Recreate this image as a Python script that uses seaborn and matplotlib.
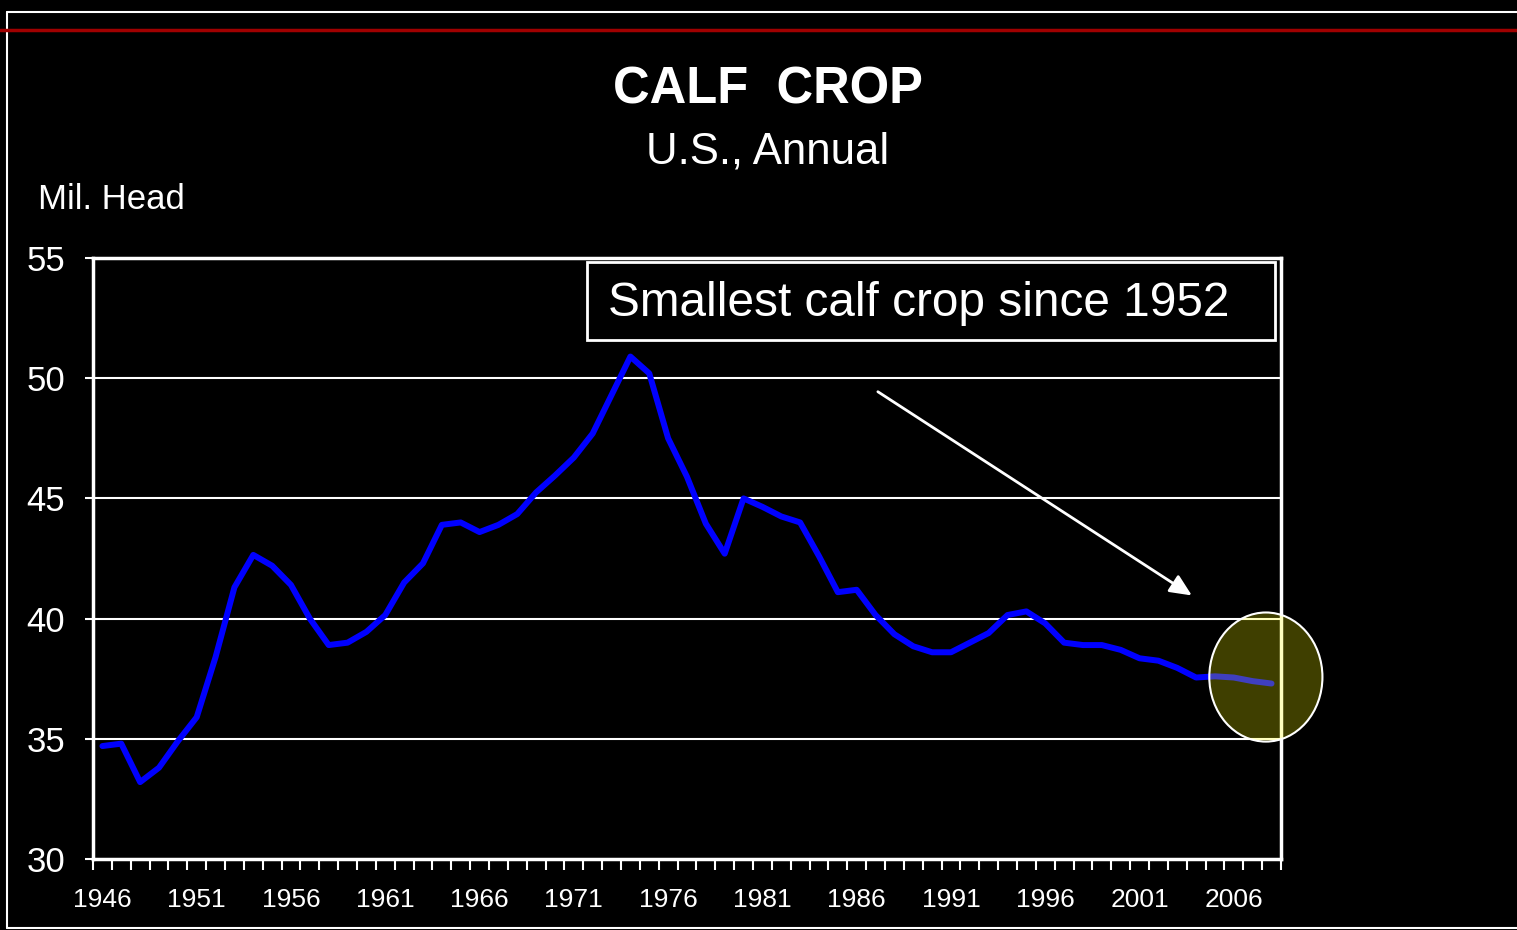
import numpy as np
import pandas as pd
import seaborn as sns
import matplotlib.pyplot as plt
from matplotlib.patches import Ellipse, Rectangle
from matplotlib.lines import Line2D

# calf crop, million head
years = list(range(1946, 2009))
calves = [34.7, 34.8, 33.2, 33.8, 34.9, 35.9, 38.4, 41.3, 42.65, 42.2,
          41.4, 40.0, 38.9, 39.0, 39.45, 40.15, 41.5, 42.3, 43.9, 44.0,
          43.6, 43.9, 44.35, 45.25, 45.95, 46.7, 47.7, 49.3, 50.9, 50.2,
          47.5, 45.9, 43.95, 42.7, 45.0, 44.65, 44.25, 44.0, 42.6, 41.1,
          41.2, 40.15, 39.35, 38.85, 38.6, 38.6, 39.0, 39.4, 40.15, 40.3,
          39.8, 39.0, 38.9, 38.9, 38.7, 38.35, 38.25, 37.95, 37.55, 37.6,
          37.55, 37.4, 37.3]
label_years = list(range(1946, 2009, 5))
y_ticks = [30, 35, 40, 45, 50, 55]

df = pd.DataFrame({"Year": years, "Calves": calves})

sns.set_theme(style="dark", rc={"figure.facecolor": "black",
                                "axes.facecolor": "black",
                                "text.color": "white",
                                "xtick.color": "white",
                                "ytick.color": "white"})
plt.rcParams["font.family"] = ["Liberation Sans", "DejaVu Sans"]

fig = plt.figure(figsize=(15.17, 9.30), dpi=100)
ax = fig.add_axes([0.0613, 0.0763, 0.7831, 0.6463])

# gridlines first so the line sits on top
for v in y_ticks[1:-1]:
    ax.axhline(v, color="white", lw=1.5, zorder=1)

sns.lineplot(data=df, x="Year", y="Calves", color="#0000FF", lw=4.3, ax=ax, zorder=3)

ax.set_xlim(years[0] - 0.5, years[-1] + 0.5)
ax.set_ylim(30, 55)
ax.set_xticks(label_years)
ax.set_xticklabels([str(y) for y in label_years], fontsize=19)
ax.set_xticks(np.arange(years[0] - 0.5, years[-1] + 1), minor=True)
ax.tick_params(axis="x", which="major", length=0, pad=21)
ax.tick_params(axis="x", which="minor", length=8, width=1.5, color="white", direction="out", bottom=True)
ax.set_yticks(y_ticks)
ax.set_yticklabels([str(v) for v in y_ticks], fontsize=25)
ax.tick_params(axis="y", length=6, width=1.5, color="white", direction="out", left=True, pad=14)
ax.set_xlabel("")
ax.set_ylabel("")
ax.grid(False)
for s in ax.spines.values():
    s.set_visible(True)
    s.set_color("white")
    s.set_linewidth(2.5)

# callout box and arrow
ax.add_patch(Rectangle((1971.7, 51.6), 36.5, 3.23, fill=False, ec="white", lw=2, zorder=4))
ax.text(1972.8, 53.1, "Smallest calf crop since 1952", fontsize=34.4, color="white",
        ha="left", va="center", zorder=5)
ax.annotate("", xy=(2003.9, 40.9), xytext=(1987.0, 49.5),
            arrowprops=dict(arrowstyle="-|>,head_length=1.1,head_width=0.5",
                            color="white", lw=2), zorder=5)

# highlight circle on the last years
ax.add_patch(Ellipse((2007.7, 37.57), 6.0, 5.37, fc=(1, 1, 0, 0.25), ec="white",
                     lw=1.5, clip_on=False, zorder=6))

# titles
fig.text(0.506, 0.903, "CALF  CROP", fontsize=36.5, fontweight="bold", ha="center", va="center")
fig.text(0.506, 0.837, "U.S., Annual", fontsize=31.5, ha="center", va="center")
fig.text(0.025, 0.785, "Mil. Head", fontsize=25, ha="left", va="center")

# slide frame and red rule
fig.add_artist(Line2D([0.0049, 1], [0.9876, 0.9876], color="white", lw=1.5))
fig.add_artist(Line2D([0.0049, 0.0049], [0.0022, 0.9876], color="white", lw=1.5))
fig.add_artist(Line2D([0.0049, 1], [0.0022, 0.0022], color="white", lw=1.5))
fig.add_artist(Line2D([0, 1], [0.9677, 0.9677], color="#A00000", lw=2.5))

fig.savefig("out.png", dpi=100, facecolor="black")
